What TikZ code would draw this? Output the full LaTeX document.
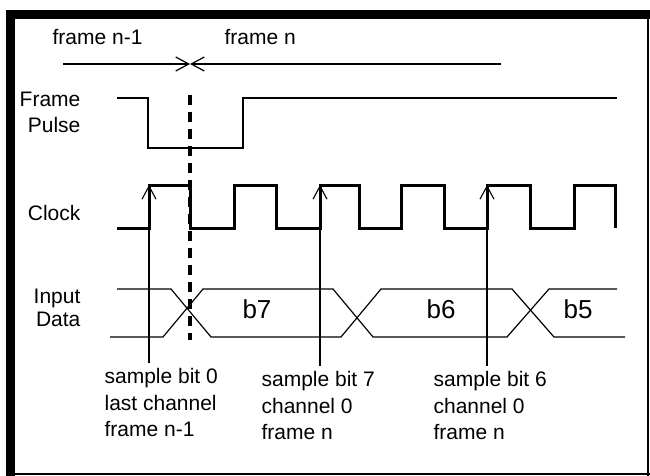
\documentclass[tikz,border=0pt]{standalone}
\usepackage{fontspec}
\setmainfont{Liberation Sans}
\usetikzlibrary{arrows.meta}

\begin{document}
\begin{tikzpicture}[x=1pt,y=-1pt,>={Straight Barb[length=13pt,width=14pt]},line width=1.2pt]
    \tikzstyle{lbl}=[inner sep=0pt, font=\fontsize{21}{26.5}\selectfont]
    \tikzstyle{bit}=[inner sep=0pt, anchor=base, font=\fontsize{26}{28}\selectfont]
    \tikzstyle{sig}=[line width=1.2pt, line join=miter]
    \tikzstyle{clk}=[line width=3pt, line join=miter]
    \tikzstyle{smp}=[->, line width=1.1pt]

    \useasboundingbox (0,0) rectangle (650,476);
    % border
    \fill (6,10) rectangle (650,19);
    \fill (6,10) rectangle (15,476);
    \draw[line width=2pt] (648,19) -- (648,476);
    \draw[line width=2pt] (15,474) -- (650,474);

    % labels
    \node[lbl, anchor=base west] (fprev) at (52,45) {frame n-1};
    \node[lbl, anchor=base west] (fcur)  at (224,45) {frame n};
    \node[lbl, anchor=north east, align=right] (pulse) at (81,91) {Frame\\Pulse};
    \node[lbl, anchor=base east] (clock) at (81,220) {Clock};
    \node[lbl, anchor=north east, align=right, font=\fontsize{21}{23}\selectfont] (data) at (81,288) {Input\\Data};

    \node[bit] (b7) at (257,318) {b7};
    \node[bit] (b6) at (441,318) {b6};
    \node[bit] (b5) at (578,318) {b5};

    \node[lbl, anchor=north west, align=left] (t0) at (104,368) {sample bit 0\\last channel\\frame n-1};
    \node[lbl, anchor=north west, align=left] (t7) at (261,371) {sample bit 7\\channel 0\\frame n};
    \node[lbl, anchor=north west, align=left] (t6) at (433,371) {sample bit 6\\channel 0\\frame n};

    % frame boundary
    \coordinate (fl) at (63,64);
    \coordinate (fb) at (190,64);
    \coordinate (fr) at (501,64);
    \draw[->] (fl) -- (fb);
    \draw[->] (fr) -- (fb);

    % waveforms
    \draw[sig] (117,98) -- (148,98) -- (148,148) -- (243,148) -- (243,98) -- (617,98);
    \draw[clk] (117,228) -| (149,185) -| (190,228) -| (234,185) -| (276,228) -| (320,185)
        -| (359,228) -| (401,185) -| (444,228) -| (487,185) -| (530,228) -| (574,185) -| (615,228);
    \draw[line width=3.2pt, dash pattern=on 10pt off 7pt] (190,95) -- (190,340);
    \draw[sig] (117,289) -- (171,289) -- (211,337) -- (341,337) -- (381,289) -- (512,289) -- (554,337) -- (625,337);
    \draw[sig] (110,337) -- (163,337) -- (203,289) -- (333,289) -- (373,337) -- (507,337) -- (549,289) -- (617,289);

    % sample points
    \coordinate (rise0) at (149,185);
    \coordinate (rise7) at (320,185);
    \coordinate (rise6) at (487,185);
    \coordinate (smp0) at (149,363);
    \coordinate (smp7) at (320,366);
    \coordinate (smp6) at (487,366);
    \draw[smp] (smp0) -- (rise0);
    \draw[smp] (smp7) -- (rise7);
    \draw[smp] (smp6) -- (rise6);
\end{tikzpicture}
\end{document}
